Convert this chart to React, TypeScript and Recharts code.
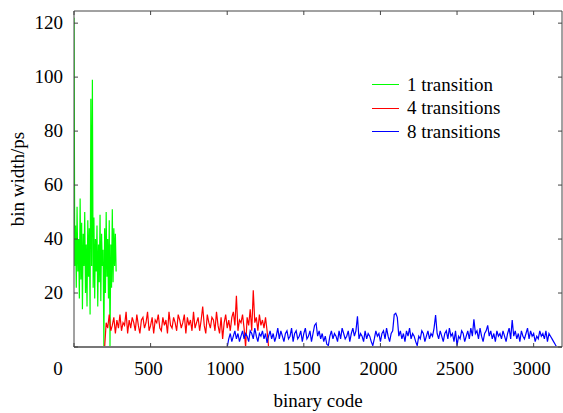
import { Legend, Line, LineChart, XAxis, YAxis } from 'recharts'

const FONT = '"Liberation Serif", "Times New Roman", serif'
const FRAME = '#444'

const xTicks = [0, 500, 1000, 1500, 2000, 2500, 3000]
const yTicks = [0, 20, 40, 60, 80, 100, 120]

// binary codes are evenly spaced (bin width in ps)
const oneTransitionStart = 0
const oneTransitionStep = 5
const oneTransition = [
  122, 30, 45, 22, 52, 28, 40, 18, 55, 25,
  46, 14, 42, 30, 50, 20, 38, 15, 47, 26,
  44, 12, 92, 30, 99, 22, 48, 18, 40, 28,
  45, 15, 38, 24, 49, 17, 42, 30, 36, 0,
  44, 20, 50, 26, 40, 18, 47, 0, 38, 22,
  51, 24, 44, 30, 42, 28,
]

const fourTransitionsStart = 200
const fourTransitionsStep = 10
const fourTransitions = [
  0, 9, 7, 12, 6, 8, 11, 5, 10, 7,
  12, 6, 9, 8, 13, 5, 10, 7, 11, 9,
  6, 12, 8, 5, 10, 11, 7, 9, 13, 6,
  8, 11, 5, 10, 9, 12, 7, 6, 11, 8,
  10, 5, 13, 8, 7, 11, 9, 6, 12, 10,
  7, 9, 12, 5, 11, 8, 10, 6, 13, 7,
  9, 11, 6, 10, 15, 8, 5, 12, 9, 7,
  11, 10, 6, 13, 8, 5, 11, 3, 9, 12,
  7, 10, 6, 11, 13, 8, 19, 6, 10, 9,
  12, 7, 0, 11, 8, 14, 6, 21, 9, 11,
  6, 12, 8, 10, 7, 11, 6, 0,
]

const eightTransitionsStart = 1000
const eightTransitionsStep = 10
const eightTransitions = [
  0, 3, 5, 2, 4, 6, 3, 5, 2, 4,
  6, 3, 5, 4, 2, 6, 5, 3, 7, 4,
  2, 5, 4, 6, 3, 5, 1.5, 4, 6, 3,
  5, 2, 4, 7, 3, 6, 4, 2, 5, 6,
  3, 4, 7, 2, 5, 6, 3, 4, 6, 2,
  5, 7, 3, 4, 6, 2, 5, 8, 8.8, 4,
  6, 3, 5, 2, 4, 1, 0.5, 4, 6, 3,
  5, 4, 2, 6, 3, 7, 5, 3, 4, 6,
  2, 5, 7, 4, 6, 11.4, 3, 5, 4, 2,
  6, 3, 5, 4, 2, 0.5, 3, 6, 4, 5,
  2, 5, 6, 3, 7, 4, 2, 5, 6, 12,
  12.5, 11, 4, 6, 3, 5, 2, 6, 4, 7,
  3, 5, 4, 2, 0.5, 4, 3, 6, 5, 2,
  4, 6, 3, 5, 4, 7, 11.8, 5, 3, 6,
  4, 2, 5, 6, 3, 7, 4, 5, 2, 6,
  0.5, 4, 3, 6, 5, 2, 4, 6, 3, 7,
  4, 10.3, 5, 6, 3, 7, 4, 2, 5, 6,
  8, 4, 6, 3, 5, 2, 6, 4, 5, 3,
  6, 4, 2, 5, 7, 3, 10, 4, 6, 3,
  5, 2, 6, 4, 3, 5, 7, 3, 6, 4,
  5, 2, 4, 3, 6, 4, 5, 3, 6, 2,
  5, 4, 3, 2, 1, 0,
]

function toPoints(start: number, step: number, values: number[]) {
  return values.map((width, i) => ({ code: start + i * step, width }))
}

const series = [
  { name: '1 transition', color: '#00ff00', data: toPoints(oneTransitionStart, oneTransitionStep, oneTransition) },
  { name: '4 transitions', color: '#ff0000', data: toPoints(fourTransitionsStart, fourTransitionsStep, fourTransitions) },
  { name: '8 transitions', color: '#0000ff', data: toPoints(eightTransitionsStart, eightTransitionsStep, eightTransitions) },
]

const labelStyle = { fontFamily: FONT, fontSize: 19, fill: '#000' }

function BottomTick({ x, y, payload }: any) {
  const shift = payload.value === 0 ? -16 : -2
  return (
    <g>
      <line x1={x} x2={x} y1={y} y2={y - 4} stroke={FRAME} />
      <text x={x + shift} y={y + 28} textAnchor="middle" {...labelStyle}>{payload.value}</text>
    </g>
  )
}

function TopTick({ x, y }: any) {
  return <line x1={x} x2={x} y1={y} y2={y + 4} stroke={FRAME} />
}

function LeftTick({ x, y, payload }: any) {
  return (
    <g>
      <line x1={x} x2={x + 4} y1={y} y2={y} stroke={FRAME} />
      {payload.value !== 0 ? (
        <text x={x - 11} y={y} dy={6} textAnchor="end" {...labelStyle}>{payload.value}</text>
      ) : null}
    </g>
  )
}

function RightTick({ x, y }: any) {
  return <line x1={x} x2={x - 4} y1={y} y2={y} stroke={FRAME} />
}

function LegendBox() {
  return (
    <div style={{ fontFamily: FONT, fontSize: 19, color: '#000' }}>
      {series.map((s) => (
        <div key={s.name} style={{ display: 'flex', alignItems: 'center', height: 23.5 }}>
          <span style={{ display: 'inline-block', width: 27, borderTop: `1.5px solid ${s.color}`, marginRight: 8 }} />
          <span>{s.name}</span>
        </div>
      ))}
    </div>
  )
}

export default function App() {
  return (
    <div style={{ position: 'absolute', left: 0, top: 0, width: 563, height: 413, background: '#fff' }}>
      <LineChart width={563} height={413} margin={{ top: 10, right: 0, bottom: 0, left: 0 }}>
        <XAxis
          dataKey="code"
          type="number"
          domain={[0, 3185]}
          ticks={xTicks}
          allowDataOverflow
          height={66}
          tickSize={0}
          tickMargin={0}
          tick={<BottomTick />}
          axisLine={{ stroke: '#777', strokeWidth: 2 }}
          tickLine={false}
          label={{ value: 'binary code', position: 'insideBottom', offset: 6, ...labelStyle }}
        />
        <XAxis
          xAxisId="top"
          orientation="top"
          dataKey="code"
          type="number"
          domain={[0, 3185]}
          ticks={xTicks}
          allowDataOverflow
          height={1}
          tickSize={0}
          tickMargin={0}
          tick={<TopTick />}
          axisLine={{ stroke: FRAME }}
          tickLine={false}
        />
        <YAxis
          type="number"
          domain={[0, 124.5]}
          ticks={yTicks}
          allowDataOverflow
          width={74}
          tickSize={0}
          tickMargin={0}
          tick={<LeftTick />}
          axisLine={{ stroke: FRAME }}
          tickLine={false}
          label={{ value: 'bin width/ps', angle: -90, position: 'insideLeft', offset: 17, style: { textAnchor: 'middle' }, ...labelStyle }}
        />
        <YAxis
          yAxisId="right"
          orientation="right"
          type="number"
          domain={[0, 124.5]}
          ticks={yTicks}
          allowDataOverflow
          width={1}
          tickSize={0}
          tickMargin={0}
          tick={<RightTick />}
          axisLine={{ stroke: FRAME }}
          tickLine={false}
        />
        {series.map((s) => (
          <Line
            key={s.name}
            data={s.data}
            dataKey="width"
            name={s.name}
            type="linear"
            stroke={s.color}
            strokeWidth={1.2}
            dot={false}
            activeDot={false}
            isAnimationActive={false}
          />
        ))}
        <Legend
          layout="horizontal"
          align="center"
          verticalAlign="middle"
          content={() => <LegendBox />}
          wrapperStyle={{ left: 372, top: 73, width: 'auto' }}
        />
      </LineChart>
    </div>
  )
}
